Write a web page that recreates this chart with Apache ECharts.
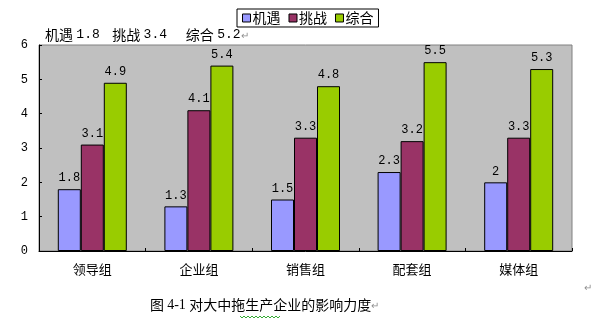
<!DOCTYPE html>
<html>
<head>
<meta charset="utf-8">
<script src="https://cdn.jsdelivr.net/npm/echarts@6/dist/echarts.min.js"></script>
<style>
  html, body { margin: 0; padding: 0; background: #ffffff; }
  #chart { width: 612px; height: 328px; }
</style>
</head>
<body>
<div id="chart"></div>
<script>
// Groups along the x axis
const categories = ['领导组', '企业组', '销售组', '配套组', '媒体组'];
// Series names
const seriesNames = ['机遇', '挑战', '综合'];
// Values per series, one per group
const opportunity = [1.8, 1.3, 1.5, 2.3, 2];
const challenge = [3.1, 4.1, 3.3, 3.2, 3.3];
const overall = [4.9, 5.4, 4.8, 5.5, 5.3];
// Averages shown in the line above the plot
const summaryValues = [1.8, 3.4, 5.2];
const captionText = '对大中拖生产企业的影响力度';

const colors = ['#9999ff', '#993366', '#99cc00'];
const cjk = '"SimSun", "Noto Sans CJK SC", sans-serif';
const num = '"Liberation Mono", "DejaVu Sans Mono", monospace';

const chart = echarts.init(document.getElementById('chart'), null, { renderer: 'canvas' });

function makeSeries(name, data, color) {
  return {
    name: name,
    type: 'bar',
    data: data,
    barWidth: 23,
    barGap: '0%',
    itemStyle: { color: color, borderColor: '#000000', borderWidth: 1 },
    label: {
      show: true,
      position: 'top',
      distance: 5,
      color: '#000000',
      fontFamily: num,
      fontSize: 12
    },
    emphasis: { disabled: true },
    animation: false
  };
}

// Summary line: Chinese names in CJK font, numbers in monospace
const gaps = ['{c|    }', '{c|      }', ''];
const summaryRich = seriesNames.map((n, i) =>
  '{c|' + n + '} {n|' + summaryValues[i] + '}' + gaps[i]).join('') + '{m|↵}';

chart.setOption({
  animation: false,
  color: colors,
  grid: {
    left: 39, right: 40, top: 45, bottom: 77,
    show: true,
    backgroundColor: '#c0c0c0',
    borderColor: '#808080',
    borderWidth: 1
  },
  legend: {
    data: seriesNames,
    top: 9,
    left: 237,
    itemWidth: 8,
    itemHeight: 8,
    itemGap: 8,
    icon: 'rect',
    padding: [2, 5, 2, 5],
    borderColor: '#000000',
    borderWidth: 1,
    backgroundColor: '#ffffff',
    textStyle: { fontFamily: cjk, fontSize: 14, color: '#000000', padding: [0, 0, 0, -3] },
    itemStyle: { borderColor: '#000000', borderWidth: 1 }
  },
  xAxis: {
    type: 'category',
    data: categories,
    axisLine: { lineStyle: { color: '#000000', width: 1 } },
    axisTick: { show: true, inside: true, length: 3, alignWithLabel: false, lineStyle: { color: '#000000' } },
    axisLabel: { color: '#000000', fontFamily: cjk, fontSize: 13, margin: 12 },
    splitLine: { show: false }
  },
  yAxis: {
    type: 'value',
    min: 0,
    max: 6,
    interval: 1,
    axisLine: { show: true, lineStyle: { color: '#000000', width: 1 } },
    axisTick: { show: true, inside: true, length: 3, lineStyle: { color: '#000000' } },
    axisLabel: { color: '#000000', fontFamily: num, fontSize: 12, margin: 11 },
    splitLine: { show: false }
  },
  series: [
    makeSeries(seriesNames[0], opportunity, colors[0]),
    makeSeries(seriesNames[1], challenge, colors[1]),
    makeSeries(seriesNames[2], overall, colors[2])
  ],
  graphic: [
    {
      type: 'text', left: 45, top: 28,
      style: {
        text: summaryRich,
        rich: {
          c: { fontFamily: cjk, fontSize: 14, fill: '#000000' },
          n: { fontFamily: num, fontSize: 13, fill: '#000000' },
          m: { fontFamily: cjk, fontSize: 10, fill: '#909090' }
        }
      }
    },
    {
      type: 'text', left: 150, top: 298,
      style: {
        text: '{c|图 }{n|4-1} {c|' + captionText + '}{m|↵}',
        rich: {
          c: { fontFamily: cjk, fontSize: 14, fill: '#000000' },
          n: { fontFamily: '"Liberation Serif", serif', fontSize: 14, fill: '#000000' },
          m: { fontFamily: cjk, fontSize: 10, fill: '#909090' }
        }
      }
    },
    {
      type: 'polyline',
      shape: { points: [[240,316],[242,318],[244,316],[246,318],[248,316],[250,318],[252,316],[254,318],[256,316],[258,318],[260,316],[262,318],[264,316],[266,318],[268,316],[270,318],[272,316],[274,318],[276,316],[278,318],[280,316]] },
      style: { stroke: '#33aa33', lineWidth: 1, fill: null }
    },
    {
      type: 'text', left: 584, top: 282,
      style: { text: '↵', fontFamily: cjk, fontSize: 10, fill: '#909090' }
    }
  ]
});
</script>
</body>
</html>
